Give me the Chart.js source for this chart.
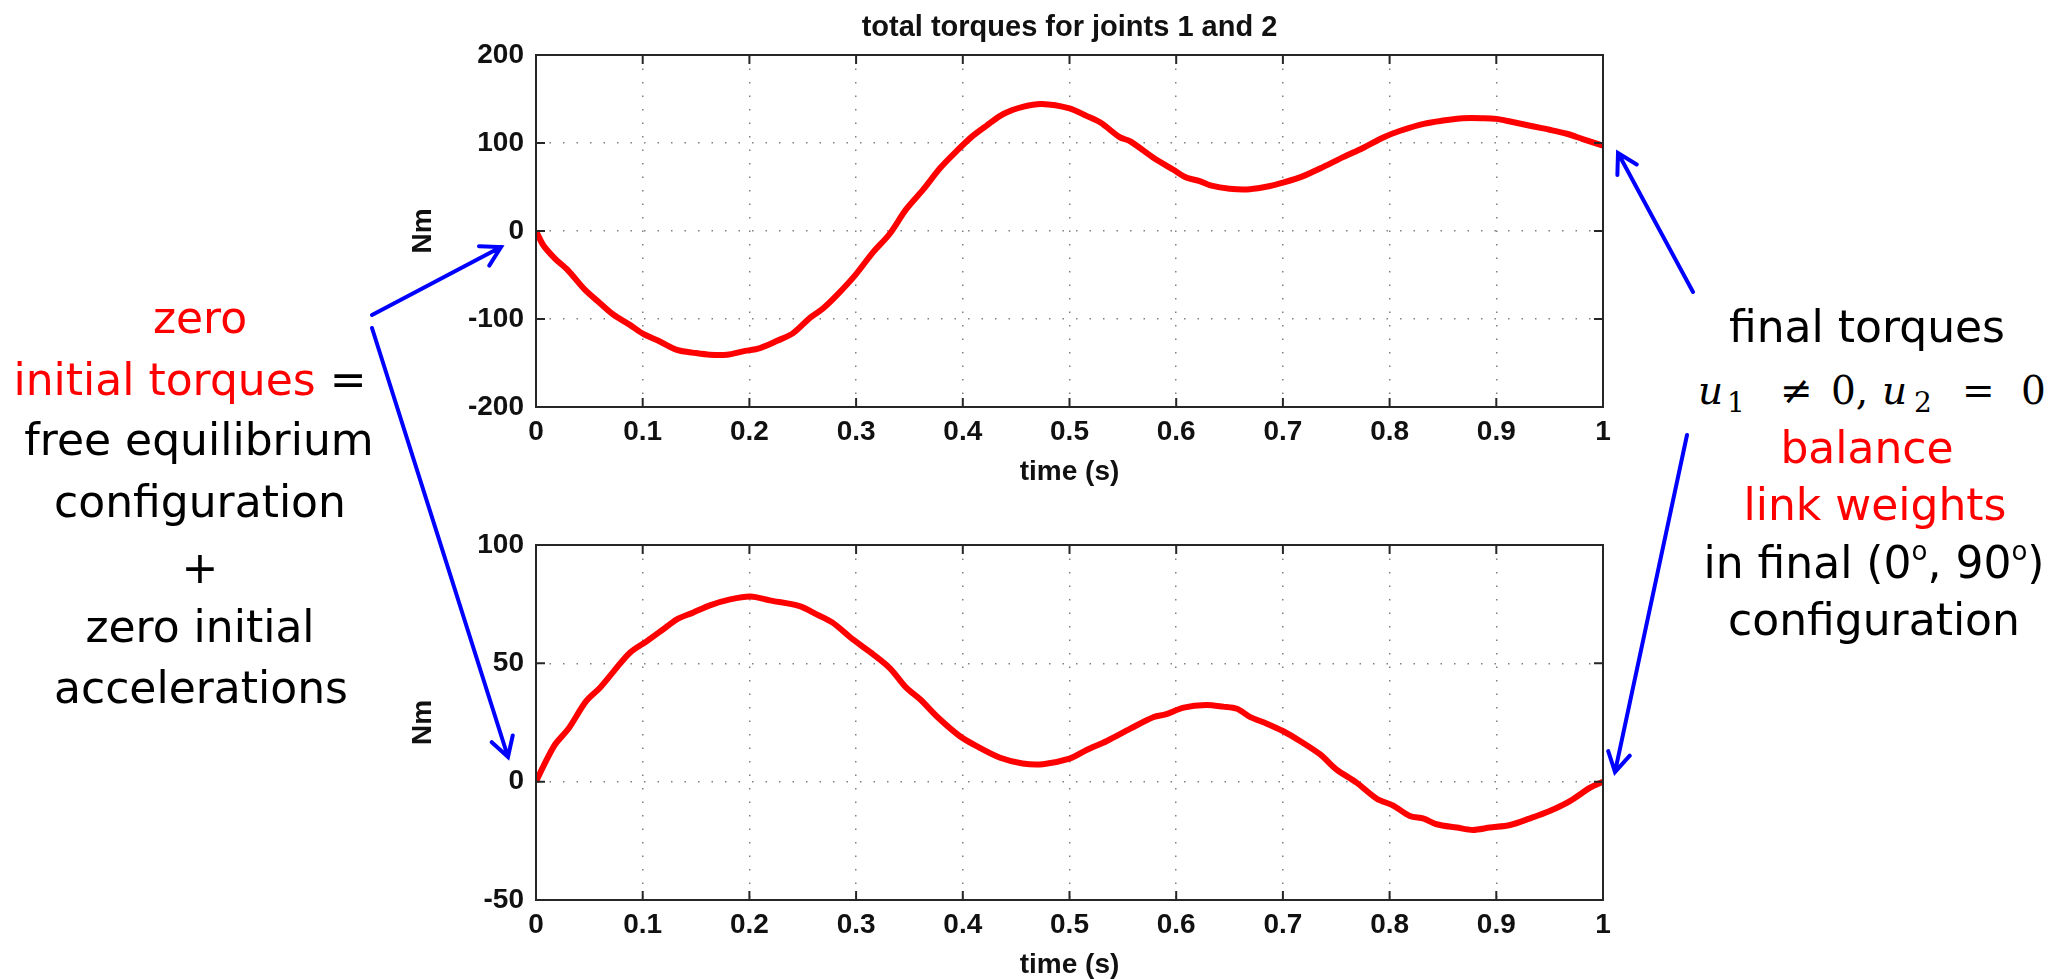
<!DOCTYPE html>
<html>
<head>
<meta charset="utf-8">
<script src="https://cdn.jsdelivr.net/npm/chart.js@4.4.1/dist/chart.umd.min.js"></script>
<style>
  html, body { margin: 0; padding: 0; background: #fff; }
  body { width: 2051px; height: 979px; position: relative; overflow: hidden; font-family: "DejaVu Sans", Verdana, sans-serif; }
  canvas { position: absolute; }
  #c1 { left: 400px; top: 0; }
  #c2 { left: 400px; top: 500px; }
  .ln { position: absolute; width: 600px; text-align: center; font-size: 44px; line-height: 60px; white-space: nowrap; color: #000; }
  .red { color: #ff0000; }
  .deg { font-size: 26px; vertical-align: 18px; line-height: 0; }
  .m { position: absolute; font-family: "DejaVu Serif", "Liberation Serif", serif; font-size: 39px; line-height: 46px; white-space: nowrap; }
  .m.sub { font-size: 28px; line-height: 34px; }
  .m i { font-style: italic; }
  #arrows { position: absolute; left: 0; top: 0; z-index: 5; }
</style>
</head>
<body>

<canvas id="c1" width="1240" height="486"></canvas>
<canvas id="c2" width="1240" height="479"></canvas>

<!-- left note -->
<div class="ln red" style="left:-100px; top:288px;">zero</div>
<div class="ln" style="left:-110px; top:350px;"><span class="red">initial torques</span> =</div>
<div class="ln" style="left:-101px; top:410px;">free equilibrium</div>
<div class="ln" style="left:-100px; top:472px;">configuration</div>
<div class="ln" style="left:-100px; top:538px;">+</div>
<div class="ln" style="left:-100px; top:597px;">zero initial</div>
<div class="ln" style="left:-99px; top:658px;">accelerations</div>

<!-- right note -->
<div class="ln" style="left:1567px; top:297px;">final torques</div>
<span class="m" style="left:1698px; top:368px;"><i>u</i></span>
<span class="m sub" style="left:1727px; top:386px;">1</span>
<span class="m" style="left:1780px; top:368px;">≠</span>
<span class="m" style="left:1831px; top:368px;">0,</span>
<span class="m" style="left:1882px; top:368px;"><i>u</i></span>
<span class="m sub" style="left:1914px; top:386px;">2</span>
<span class="m" style="left:1962px; top:368px;">=</span>
<span class="m" style="left:2021px; top:368px;">0</span>
<div class="ln red" style="left:1567px; top:418px;">balance</div>
<div class="ln red" style="left:1575px; top:475px;">link weights</div>
<div class="ln" style="left:1574px; top:533px;">in final (0<span class="deg">o</span>, 90<span class="deg">o</span>)</div>
<div class="ln" style="left:1574px; top:590px;">configuration</div>

<svg id="arrows" width="2051" height="979"></svg>

<script>
// ---- data ----
// joint 1 (top panel)
const time1 = [0, 0.007, 0.018, 0.030, 0.046, 0.060, 0.073, 0.088, 0.101, 0.116,
  0.132, 0.150, 0.163, 0.179, 0.194, 0.210, 0.226, 0.241, 0.257, 0.269,
  0.282, 0.299, 0.316, 0.331, 0.347, 0.363, 0.379, 0.394, 0.408, 0.422,
  0.438, 0.457, 0.474, 0.500, 0.516, 0.529, 0.547, 0.557, 0.579, 0.597,
  0.610, 0.622, 0.632, 0.650, 0.669, 0.688, 0.700, 0.719, 0.738, 0.757,
  0.775, 0.794, 0.810, 0.832, 0.850, 0.869, 0.888, 0.900, 0.913, 0.935,
  0.950, 0.966, 0.981, 1.000];
const torque1 = [0, -16.5, -31.6, -44.7, -67, -82, -95.5, -106.7, -117.3, -125.5,
  -135, -138.7, -140.6, -140.6, -136.8, -133, -124.8, -116, -98.4, -88,
  -72.9, -50.4, -24, -4, 24.8, 47.3, 71.8, 90.6, 106.7, 119.5,
  133, 141.3, 144.3, 139.4, 130.8, 123.3, 106.7, 101.9, 83, 69.9,
  60.5, 56.7, 51.9, 48.1, 47.5, 51.1, 54.9, 62.4, 72.9, 84.2,
  94.3, 106.3, 113.9, 121.8, 125.5, 128.2, 128.2, 127.4, 124.4, 118.7,
  115, 110.5, 104.5, 97];

// joint 2 (bottom panel)
const time2 = [0, 0.007, 0.018, 0.030, 0.047, 0.060, 0.073, 0.088, 0.104, 0.119,
  0.132, 0.147, 0.163, 0.182, 0.201, 0.219, 0.247, 0.263, 0.278, 0.297,
  0.316, 0.332, 0.347, 0.360, 0.377, 0.397, 0.413, 0.435, 0.456, 0.475,
  0.500, 0.516, 0.535, 0.557, 0.579, 0.590, 0.607, 0.628, 0.644, 0.657,
  0.669, 0.685, 0.700, 0.716, 0.735, 0.750, 0.769, 0.788, 0.803, 0.819,
  0.832, 0.844, 0.863, 0.878, 0.894, 0.913, 0.931, 0.950, 0.969, 0.988, 1.000];
const torque2 = [0, 6.6, 15.8, 22.1, 34, 39.7, 46.7, 54.5, 59.4, 64.3,
  68.6, 71.4, 74.5, 77, 78.2, 76.6, 74.2, 70.7, 67.2, 60.1,
  53.8, 47.8, 39.7, 34.8, 27, 19.3, 15, 10.1, 7.7, 7.4,
  9.7, 13.4, 17.2, 22.4, 27.3, 28.4, 31.3, 32.4, 31.7, 30.8,
  27.4, 24.5, 21.4, 17.2, 11.5, 5.2, -0.4, -7.2, -10, -14.5,
  -15.6, -18, -19.4, -20.4, -19.4, -18.3, -15.6, -12.4, -8.2, -2.5, 0];

// axis ranges / ticks
const xRange = [0, 1], xStep = 0.1;
const yRange1 = [-200, 200], yStep1 = 100;
const yRange2 = [-50, 100], yStep2 = 50;

const FONT = '"Liberation Sans", Arial, sans-serif';
const axisFont = { family: FONT, size: 28, weight: 'bold', lineHeight: 1 };

// matlab style box, inward tick marks, title centred over the axes
const matlabFrame = {
  id: 'matlabFrame',
  afterDatasetsDraw(chart, args, opts) {
    const { ctx, chartArea: a } = chart;
    const x = chart.scales.x, y = chart.scales.y;
    const len = 9;
    ctx.save();
    ctx.strokeStyle = '#262626';
    ctx.lineWidth = 2;
    ctx.beginPath();
    x.ticks.forEach(t => {
      const px = x.getPixelForValue(t.value);
      ctx.moveTo(px, a.top); ctx.lineTo(px, a.top + len);
      ctx.moveTo(px, a.bottom); ctx.lineTo(px, a.bottom - len);
    });
    y.ticks.forEach(t => {
      const py = y.getPixelForValue(t.value);
      ctx.moveTo(a.left, py); ctx.lineTo(a.left + len, py);
      ctx.moveTo(a.right, py); ctx.lineTo(a.right - len, py);
    });
    ctx.stroke();
    ctx.strokeRect(a.left, a.top, a.right - a.left, a.bottom - a.top);

    if (opts.title) {
      ctx.fillStyle = '#111';
      ctx.font = 'bold 29px ' + FONT;
      ctx.textAlign = 'center';
      ctx.textBaseline = 'middle';
      ctx.fillText(opts.title, (a.left + a.right) / 2, a.top - 27);
    }
    ctx.restore();
  }
};

function torqueChart(canvasId, times, torques, yRange, yStep, title, padTop) {
  const points = times.map((t, i) => ({ x: t, y: torques[i] }));
  const dotted = [1.5, 12];
  return new Chart(document.getElementById(canvasId), {
    type: 'line',
    data: {
      datasets: [{
        data: points,
        borderColor: '#ff0000',
        borderWidth: 6,
        pointRadius: 0,
        tension: 0.3,
        fill: false
      }]
    },
    options: {
      responsive: false,
      animation: false,
      devicePixelRatio: 1,
      layout: { padding: { top: padTop, right: 37, bottom: 0, left: 0 } },
      plugins: {
        legend: { display: false },
        tooltip: { enabled: false },
        title: { display: false },
        matlabFrame: { title: title }
      },
      scales: {
        x: {
          type: 'linear',
          min: xRange[0], max: xRange[1],
          ticks: {
            stepSize: xStep, padding: 11, color: '#111', font: axisFont,
            maxRotation: 0, autoSkip: false,
            callback: v => String(Math.round(v * 10) / 10)
          },
          grid: { color: '#808080', lineWidth: 1.5, drawTicks: false, tickLength: 0, borderDash: dotted },
          border: { display: false, dash: dotted },
          title: { display: true, text: 'time (s)', color: '#111', font: axisFont, padding: { top: 0, bottom: 0 } },
          afterFit: s => { s.height = 79; }
        },
        y: {
          min: yRange[0], max: yRange[1],
          ticks: {
            stepSize: yStep, padding: 12, color: '#111', font: axisFont,
            callback: v => String(v)
          },
          grid: { color: '#808080', lineWidth: 1.5, drawTicks: false, tickLength: 0, borderDash: dotted },
          border: { display: false, dash: dotted },
          title: { display: true, text: 'Nm', color: '#111', font: axisFont, padding: { top: 9, bottom: 0 } },
          afterFit: s => { s.width = 136; }
        }
      }
    },
    plugins: [matlabFrame]
  });
}

torqueChart('c1', time1, torque1, yRange1, yStep1, 'total torques for joints 1 and 2', 55);
torqueChart('c2', time2, torque2, yRange2, yStep2, null, 45);

// blue annotation arrows (tail -> tip)
const arrows = [
  [372, 315, 501, 247],
  [372, 328, 508, 757],
  [1693, 292, 1618, 153],
  [1687, 435, 1615, 772]
];
const svgNS = 'http://www.w3.org/2000/svg';
const svg = document.getElementById('arrows');
arrows.forEach(([x1, y1, x2, y2]) => {
  const ang = Math.atan2(y1 - y2, x1 - x2);
  const L = 22, spread = Math.PI / 6;
  const w1 = [x2 + L * Math.cos(ang + spread), y2 + L * Math.sin(ang + spread)];
  const w2 = [x2 + L * Math.cos(ang - spread), y2 + L * Math.sin(ang - spread)];
  const p = document.createElementNS(svgNS, 'path');
  p.setAttribute('d', `M${x1},${y1} L${x2},${y2} M${w1[0]},${w1[1]} L${x2},${y2} L${w2[0]},${w2[1]}`);
  p.setAttribute('stroke', '#0000ff');
  p.setAttribute('stroke-width', '4');
  p.setAttribute('fill', 'none');
  p.setAttribute('stroke-linecap', 'round');
  svg.appendChild(p);
});
</script>
</body>
</html>
